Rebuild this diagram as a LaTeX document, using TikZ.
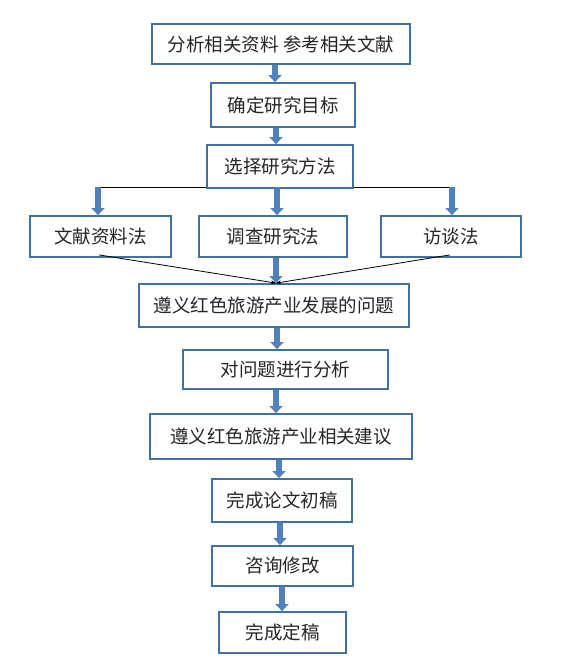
\documentclass[tikz,border=0pt]{standalone}
\usepackage{fontspec}
\newfontfamily\cjk{Noto Sans CJK SC}
\usetikzlibrary{arrows.meta}
\definecolor{boxblue}{HTML}{41719C}
\definecolor{arrblue}{HTML}{4F81BD}
\definecolor{txt}{HTML}{262626}
\tikzset{
  box/.style={draw=boxblue, line width=1.8pt, fill=white, text=txt,
    font=\cjk\fontsize{18.5}{22}\selectfont, inner sep=0pt, align=center},
  fat/.style={draw=arrblue, line width=5.5pt,
    -{Triangle[width=13pt,length=7pt,fill=arrblue]}},
  thinarr/.style={draw=black, line width=0.8pt, -{Stealth[length=5pt,width=4pt]}},
}
\begin{document}
\begin{tikzpicture}[x=1pt,y=-1pt]
\useasboundingbox (0,0) rectangle (562,665);
% horizontal bar (drawn first so box 3 overlaps)
\coordinate (hl) at (100,187);
\coordinate (hr) at (455,187);
\draw[line width=0.8pt] (hl) -- (hr);

\node[box, minimum width=258pt, minimum height=40pt] (b1) at (281,44) {分析相关资料\ 参考相关文献};
\node[box, minimum width=144pt, minimum height=44pt] (b2) at (283,105) {确定研究目标};
\node[box, minimum width=146pt, minimum height=43pt] (b3) at (280,166.5) {选择研究方法};
\node[box, minimum width=141pt, minimum height=41pt] (m1) at (100.5,236.5) {文献资料法};
\node[box, minimum width=148pt, minimum height=41pt] (m2) at (273,236.5) {调查研究法};
\node[box, minimum width=140pt, minimum height=41pt] (m3) at (451,236.5) {访谈法};
\node[box, minimum width=270pt, minimum height=43pt] (b4) at (274,305.5) {遵义红色旅游产业发展的问题};
\node[box, minimum width=205pt, minimum height=39pt] (b5) at (285.5,369.5) {对问题进行分析};
\node[box, minimum width=262pt, minimum height=45pt] (b6) at (281,436.5) {遵义红色旅游产业相关建议};
\node[box, minimum width=140pt, minimum height=43pt] (b7) at (282,500.5) {完成论文初稿};
\node[box, minimum width=141pt, minimum height=40pt] (b8) at (282.5,566) {咨询修改};
\node[box, minimum width=127pt, minimum height=41pt] (b9) at (282.5,632.5) {完成定稿};

% vertical fat arrows between boxes
\coordinate (a1) at ([xshift=-6pt]b1.south);
\draw[fat] (a1) -- (a1 |- b2.north);
\coordinate (a2) at ([xshift=-7pt]b2.south);
\draw[fat] (a2) -- (a2 |- b3.north);
\coordinate (t1) at (98,187);
\coordinate (t2) at (277,187);
\coordinate (t3) at (452,187);
\draw[fat] (t1) -- (t1 |- m1.north);
\draw[fat] (t2) -- (t2 |- m2.north);
\draw[fat] (t3) -- (t3 |- m3.north);
\coordinate (a3) at ([xshift=3pt]m2.south);
\draw[fat] (a3) -- (a3 |- b4.north);
\coordinate (a4) at ([xshift=3pt]b4.south);
\draw[fat] (a4) -- (a4 |- b5.north);
\coordinate (a5) at ([xshift=-9.5pt]b5.south);
\draw[fat] (a5) -- (a5 |- b6.north);
\coordinate (a6) at ([xshift=-2pt]b6.south);
\draw[fat] (a6) -- (a6 |- b7.north);
\coordinate (a7) at ([xshift=-2pt]b7.south);
\draw[fat] (a7) -- (a7 |- b8.north);
\coordinate (a8) at ([xshift=-0.5pt]b8.south);
\draw[fat] (a8) -- (a8 |- b9.north);

% converging thin lines
\draw[thinarr] ([xshift=-1.5pt,yshift=3pt]m1.south) -- ([xshift=2pt]b4.north);
\draw[thinarr] ([xshift=-1pt,yshift=3pt]m3.south) -- ([xshift=2pt]b4.north);
\end{tikzpicture}
\end{document}
